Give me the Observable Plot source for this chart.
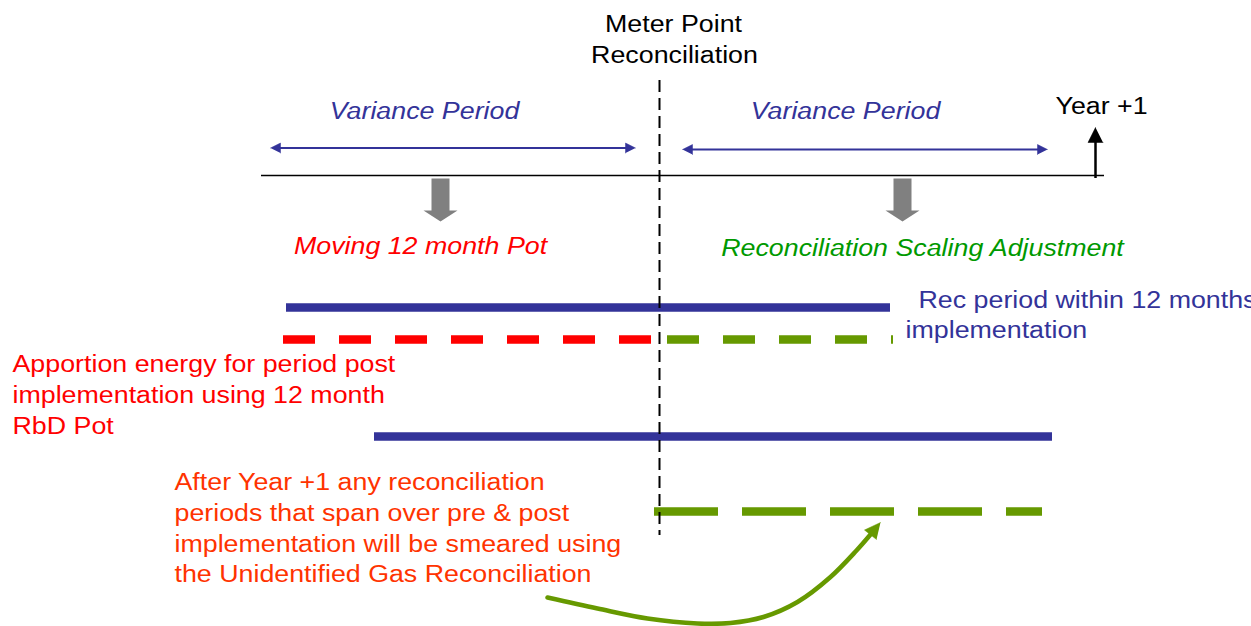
<!DOCTYPE html>
<html><head><meta charset="utf-8">
<script src="https://cdn.jsdelivr.net/npm/d3@7"></script>
<script src="https://cdn.jsdelivr.net/npm/@observablehq/plot@0.6"></script>
<style>html,body{margin:0;padding:0;background:#fff;} #chart{width:1251px;height:626px;overflow:hidden}</style>
</head><body><div id="chart"></div>
<script>
// ---- diagram data (diagram units along a horizontal timeline / vertical rows) ----
const timeline = [{x1: 261, x2: 1104, y: 175}];
const implementation = [{x: 659, y1: 80, y2: 535}];
const variancePeriods = [{x1: 270, x2: 635, y: 147.5}, {x1: 682, x2: 1047, y: 149}];
const yearPlusOne = [{x: 1095, y1: 178, y2: 127}];
const potArrows = [{x: 440}, {x: 902}];
const recPeriods = [{x1: 286, x2: 890, y: 307}, {x1: 374, x2: 1052, y: 436}];
const potDashes = [{x1: 283, x2: 655, y: 339}];
const scalingDashes = [{x1: 667, x2: 893, y: 339}];
const ugrDashes = [{x1: 654, x2: 1042, y: 511}];
const smearCurve = [
  {x: 547, y: 597}, {x: 597, y: 608}, {x: 647, y: 618}, {x: 697, y: 623}, {x: 730, y: 622.5},
  {x: 763, y: 616.5}, {x: 797, y: 601.5}, {x: 830, y: 576.5}, {x: 856, y: 550}, {x: 870, y: 534}
];
const smearHead = [{x: 880, y: 522}, {x: 864, y: 529.5}, {x: 876, y: 539}];

const blackLabels = [
  {text: "Meter Point", x: 673, y: 31},
  {text: "Reconciliation", x: 674, y: 62}
];
const yearLabel = [{text: "Year +1", x: 1055, y: 113}];
const varianceLabels = [{text: "Variance Period", x: 424, y: 118}, {text: "Variance Period", x: 845, y: 118}];
const potLabel = [{text: "Moving 12 month Pot", x: 420, y: 253}];
const scalingLabel = [{text: "Reconciliation Scaling Adjustment", x: 922, y: 255}];
const recLabel = [{text: "Rec period within 12 months", x: 918, y: 307}, {text: "implementation", x: 905, y: 337}];
const apportionLabel = [
  {text: "Apportion energy for period post", x: 12, y: 371},
  {text: "implementation using 12 month", x: 12, y: 402},
  {text: "RbD Pot", x: 12, y: 433}
];
const afterLabel = [
  {text: "After Year +1 any reconciliation", x: 174, y: 489},
  {text: "periods that span over pre & post", x: 174, y: 520},
  {text: "implementation will be smeared using", x: 174, y: 551},
  {text: "the Unidentified Gas Reconciliation", x: 174, y: 581}
];

// ---- styles ----
const W = 1251, H = 626;
const BLUE = "#333399", RED = "#ff0000", GREEN = "#669900", TGREEN = "#009900", ORANGE = "#ff3300", GRAY = "#808080";
const FONT = "'Liberation Sans', Arial, Helvetica, sans-serif";
const FS = 23.5;
const STRETCH = 1.14;

// polygon helpers (shapes built from the data above)
const varianceHeads = variancePeriods.flatMap((d, i) => [
  {id: "l" + i, x: d.x1, y: d.y}, {id: "l" + i, x: d.x1 + 10, y: d.y - 5}, {id: "l" + i, x: d.x1 + 10, y: d.y + 5},
  {id: "r" + i, x: d.x2, y: d.y}, {id: "r" + i, x: d.x2 - 10, y: d.y - 5}, {id: "r" + i, x: d.x2 - 10, y: d.y + 5}
]);
const yearHead = yearPlusOne.flatMap(d => [
  {x: d.x, y: d.y2}, {x: d.x - 7.5, y: d.y2 + 15}, {x: d.x + 7.5, y: d.y2 + 15}
]);
const potShapes = potArrows.flatMap((d, i) => [
  [-9, 178], [9, 178], [9, 210], [17, 210], [0, 221], [-17, 210], [-9, 210]
].map(([dx, y]) => ({id: i, x: d.x + dx, y})));

const textOpts = (extra) => Object.assign({x: "x", y: "y", text: "text", fontSize: FS, fontFamily: FONT, lineAnchor: "bottom"}, extra);

const chart = Plot.plot({
  width: W, height: H, margin: 0,
  x: {type: "linear", domain: [0, W], range: [0, W], axis: null},
  y: {type: "linear", domain: [0, H], range: [0, H], axis: null},
  style: {background: "white", overflow: "hidden"},
  marks: [
    Plot.ruleY(timeline, {y: "y", x1: "x1", x2: "x2", stroke: "black", strokeWidth: 1.4}),
    Plot.ruleY(variancePeriods, {y: "y", x1: d => d.x1 + 8, x2: d => d.x2 - 8, stroke: BLUE, strokeWidth: 2}),
    Plot.line(varianceHeads, {x: "x", y: "y", z: "id", fill: BLUE, stroke: BLUE, strokeWidth: 0.5}),
    Plot.ruleX(yearPlusOne, {x: "x", y1: "y1", y2: d => d.y2 + 12, stroke: "black", strokeWidth: 2.5}),
    Plot.line(yearHead, {x: "x", y: "y", fill: "black", stroke: "black", strokeWidth: 0.5}),
    Plot.line(potShapes, {x: "x", y: "y", z: "id", fill: GRAY, stroke: "none"}),
    Plot.ruleY(recPeriods, {y: "y", x1: "x1", x2: "x2", stroke: BLUE, strokeWidth: 8.5}),
    Plot.ruleY(potDashes, {y: "y", x1: "x1", x2: "x2", stroke: RED, strokeWidth: 8.5, strokeDasharray: "32,24"}),
    Plot.ruleY(scalingDashes, {y: "y", x1: "x1", x2: "x2", stroke: GREEN, strokeWidth: 8.5, strokeDasharray: "32,24"}),
    Plot.ruleY(ugrDashes, {y: "y", x1: "x1", x2: "x2", stroke: GREEN, strokeWidth: 8.5, strokeDasharray: "64,24"}),
    Plot.ruleX(implementation, {x: "x", y1: "y1", y2: "y2", stroke: "black", strokeWidth: 2, strokeDasharray: "12,6"}),
    Plot.line(smearCurve, {x: "x", y: "y", curve: "catmull-rom", stroke: GREEN, strokeWidth: 4.5}),
    Plot.line(smearHead, {x: "x", y: "y", fill: GREEN, stroke: GREEN, strokeWidth: 0.5}),
    Plot.text(blackLabels, textOpts({fill: "black", textAnchor: "middle"})),
    Plot.text(yearLabel, textOpts({fill: "black", textAnchor: "start"})),
    Plot.text(varianceLabels, textOpts({fill: BLUE, textAnchor: "middle", fontStyle: "italic"})),
    Plot.text(potLabel, textOpts({fill: RED, textAnchor: "middle", fontStyle: "italic"})),
    Plot.text(scalingLabel, textOpts({fill: TGREEN, textAnchor: "middle", fontStyle: "italic"})),
    Plot.text(recLabel, textOpts({fill: BLUE, textAnchor: "start"})),
    Plot.text(apportionLabel, textOpts({fill: RED, textAnchor: "start"})),
    Plot.text(afterLabel, textOpts({fill: ORANGE, textAnchor: "start"}))
  ]
});
document.getElementById("chart").appendChild(chart);
// the source slide is horizontally stretched; widen the glyphs to match
chart.querySelectorAll("text").forEach(t => {
  const w = t.getComputedTextLength();
  if (w > 0) { t.setAttribute("textLength", (w * STRETCH).toFixed(1)); t.setAttribute("lengthAdjust", "spacingAndGlyphs"); }
});
</script></body></html>
